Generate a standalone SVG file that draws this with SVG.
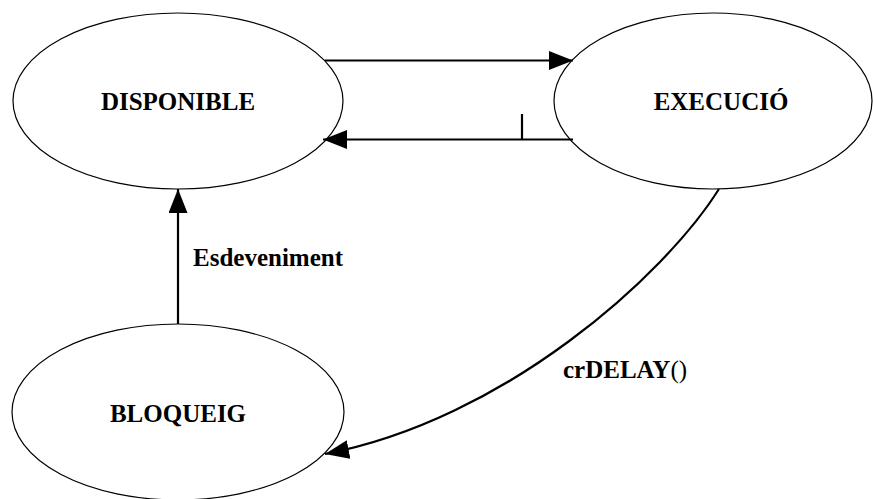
<svg xmlns="http://www.w3.org/2000/svg" width="873" height="499" viewBox="0 0 873 499">
  <style>
    .state { fill: #ffffff; stroke: #000000; stroke-width: 1.2; }
    .label { font-family: "Liberation Serif", "Times New Roman", serif; font-weight: bold; font-size: 25px; fill: #000000; }
    .edge { fill: none; stroke: #000000; stroke-width: 2.2; }
  </style>
  <defs>
    <marker id="arrow" markerUnits="userSpaceOnUse" markerWidth="25" markerHeight="20" refX="24" refY="9.5" orient="auto">
      <path d="M0,0 L24,9.5 L0,19 z" fill="#000000"/>
    </marker>
  </defs>
  <rect width="873" height="499" fill="#ffffff"/>

  <g id="node-disponible">
    <ellipse class="state" cx="178" cy="101" rx="165" ry="88"/>
    <text class="label" x="178" y="110" text-anchor="middle">DISPONIBLE</text>
  </g>

  <g id="node-execucio">
    <ellipse class="state" cx="713" cy="101" rx="159" ry="88"/>
    <text class="label" x="721" y="110" text-anchor="middle">EXECUCIÓ</text>
  </g>

  <g id="node-bloqueig">
    <ellipse class="state" cx="178" cy="412" rx="166" ry="88"/>
    <text class="label" x="178" y="422" text-anchor="middle">BLOQUEIG</text>
  </g>

  <g id="connectors">
    <!-- DISPONIBLE to EXECUCIÓ -->
    <line class="edge" x1="325" y1="60.5" x2="573" y2="60.5" marker-end="url(#arrow)"/>
    <!-- EXECUCIÓ back to DISPONIBLE, with tick mark -->
    <line class="edge" x1="573" y1="139.5" x2="323" y2="139.5" marker-end="url(#arrow)"/>
    <line class="edge" x1="522" y1="114" x2="522" y2="139.5"/>
    <!-- BLOQUEIG to DISPONIBLE -->
    <line class="edge" x1="178" y1="324" x2="178" y2="189" marker-end="url(#arrow)"/>
    <text class="label" x="193" y="266">Esdeveniment</text>
    <!-- EXECUCIÓ to BLOQUEIG -->
    <path class="edge" d="M719,189 C665,275 505,420 325,454" marker-end="url(#arrow)"/>
    <text class="label" x="563" y="378">crDELAY<tspan font-weight="normal">()</tspan></text>
  </g>
</svg>
